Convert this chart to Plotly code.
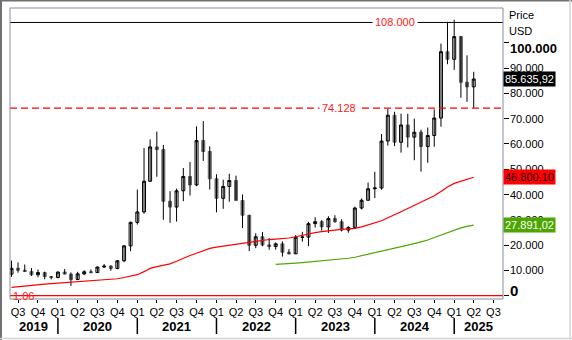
import plotly.graph_objects as go
import pandas as pd

# ---------------- data ----------------
months = pd.date_range("2019-06-01", periods=71, freq="MS")

opens = [8550, 10820, 10080, 9600, 8290, 9150, 7550, 7190, 9350, 8540, 6410, 8630,
         9450, 9140, 11350, 11660, 10780, 13800, 19700, 28990, 33110, 45240, 58800, 57750,
         37330, 35040, 41460, 47130, 43790, 61300, 57000, 46210, 38480, 43190, 45540, 37640,
         31800, 19940, 23300, 20050, 19430, 20500, 17170, 16550, 23140, 23150, 28480, 29250,
         27220, 30480, 29230, 25940, 26970, 34650, 37720, 42270, 42580, 61130, 71330, 60640,
         67480, 62680, 64620, 58970, 63330, 70220, 96450, 93430, 102400, 84370, 82550]
highs = [13880, 13150, 12330, 10930, 10370, 9500, 7750, 9590, 10500, 9190, 9440, 10070,
         10380, 11450, 12480, 12070, 14100, 19860, 29300, 41950, 58330, 61780, 64860, 59600,
         41330, 42320, 50480, 52850, 66930, 69000, 59040, 47990, 45820, 48190, 47440, 40000,
         31950, 24670, 25210, 22800, 21080, 21480, 18400, 23950, 25250, 29200, 31000, 29850,
         31400, 31800, 30200, 27470, 35200, 38420, 44700, 48970, 63900, 73780, 72720, 71950,
         71910, 70000, 65600, 66480, 73620, 99650, 108270, 109100, 102700, 95000, 88500]
lows = [7460, 9100, 9420, 7800, 7300, 6520, 6430, 6870, 8460, 3850, 6150, 8110,
        8900, 8980, 10980, 9880, 10430, 13220, 17620, 28130, 32380, 45000, 47040, 30000,
        28800, 29280, 37330, 39600, 43280, 53260, 42000, 32950, 34320, 37160, 37700, 26700,
        17620, 18780, 19540, 18160, 18200, 15480, 16330, 16500, 21400, 19570, 26940, 25800,
        24800, 28860, 25400, 24900, 26560, 34100, 37600, 38550, 41880, 59320, 59120, 56550,
        58600, 53550, 49050, 52550, 58900, 66800, 91500, 89260, 78250, 76600, 74300]
closes = [10820, 10080, 9600, 8290, 9150, 7550, 7190, 9350, 8540, 6410, 8630, 9450,
          9140, 11350, 11660, 10780, 13800, 19700, 28990, 33110, 45240, 58800, 57750, 37330,
          35040, 41460, 47130, 43790, 61300, 57000, 46210, 38480, 43190, 45540, 37640, 31800,
          19940, 23300, 20050, 19430, 20500, 17170, 16550, 23140, 23150, 28480, 29250, 27220,
          30480, 29230, 25940, 26970, 34650, 37720, 42270, 42580, 61130, 71330, 60640, 67480,
          62680, 64620, 58970, 63330, 70220, 96450, 93430, 102400, 84370, 82550, 85636]

red_ma = [3300, 3600, 3900, 4200, 4400, 4600, 4800, 5000, 5100, 5300, 5400, 5600,
          5800, 6000, 6200, 6400, 6700, 7200, 7800, 8300, 9500, 10800, 11500, 12100,
          12600, 13600, 14800, 15900, 16800, 17900, 18700, 19200, 19600, 20000, 20300, 20700,
          21000, 21500, 22000, 22200, 22400, 22600, 22800, 23300, 23900, 24500, 24900, 25300,
          25700, 26000, 26200, 26400, 26600, 27200, 27900, 28600, 29600, 30800, 31900, 33200,
          34500, 35800, 37000, 38300, 39500, 41200, 43000, 44400, 45300, 46100, 46800]
green_start = 40  # Oct 2022
green_ma = [12400, 12500, 12700, 12900, 13100, 13300, 13500, 13800, 14000, 14200, 14500,
            14800, 15200, 15800, 16400, 17000, 17600, 18100, 18600, 19200, 19900, 20600,
            21300, 22000, 23000, 24000, 25000, 26000, 26800, 27400, 27900]

y_ticks = [0, 10000, 20000, 30000, 40000, 50000, 60000, 70000, 80000, 90000, 100000]
y_tick_labels = ["0", "10.000", "20.000", "30.000", "40.000", "50.000", "60.000",
                 "70.000", "80.000", "90.000", "100.000"]
q_ticks = pd.date_range("2019-07-01", "2025-07-01", freq="QS")
q_labels = ["Q3", "Q4"] + ["Q1", "Q2", "Q3", "Q4"] * 5 + ["Q1", "Q2", "Q3"]
years = ["2019", "2020", "2021", "2022", "2023", "2024", "2025"]

level_high = 108000
level_mid = 74128
level_low = 1.06
last_price_label = "85.635,92"
red_ma_label = "46.800,10"
green_ma_label = "27.891,02"

x_range = [pd.Timestamp("2019-05-25"), pd.Timestamp("2025-08-14")]
y_range = [-1304, 113715]

FONT = "Liberation Sans, Arial, sans-serif"

# ---------------- figure ----------------
fig = go.Figure()

# wicks
wx, wy = [], []
for d, lo, hi in zip(months, lows, highs):
    wx += [d, d, None]
    wy += [lo, hi, None]
fig.add_trace(go.Scatter(x=wx, y=wy, mode="lines", line=dict(color="black", width=1),
                         hoverinfo="skip", showlegend=False))

body_hi = [max(o, c) for o, c in zip(opens, closes)]
body_lo = [min(o, c) for o, c in zip(opens, closes)]
fig.add_trace(go.Candlestick(
    x=months, open=opens, high=body_hi, low=body_lo, close=closes,
    increasing=dict(fillcolor="white", line=dict(color="black", width=1)),
    decreasing=dict(fillcolor="#676767", line=dict(color="#676767", width=1)),
    showlegend=False))

fig.add_trace(go.Scatter(x=months, y=red_ma, mode="lines",
                         line=dict(color="#ff0000", width=1.2), showlegend=False))
fig.add_trace(go.Scatter(x=months[green_start:], y=green_ma, mode="lines",
                         line=dict(color="#4aa800", width=1.2), showlegend=False))

shapes = []
# horizontal levels
shapes.append(dict(type="line", xref="paper", x0=0, x1=1, yref="y", y0=level_high, y1=level_high,
                   line=dict(color="black", width=1)))
shapes.append(dict(type="line", xref="paper", x0=0, x1=1, yref="y", y0=level_mid, y1=level_mid,
                   line=dict(color="#ff0000", width=1.2, dash="7px,4px")))
shapes.append(dict(type="line", xref="paper", x0=0, x1=1, yref="y", y0=level_low, y1=level_low,
                   line=dict(color="#ff0000", width=1.2)))
# plot frame
shapes.append(dict(type="rect", xref="paper", yref="paper", x0=0, x1=1, y0=0, y1=1,
                   line=dict(color="#8c8ca0", width=1)))
# outer window border
shapes.append(dict(type="line", xref="paper", yref="paper", x0=-0.0183, x1=1.14, y0=1.0255, y1=1.0255,
                   line=dict(color="#707070", width=2)))
shapes.append(dict(type="line", xref="paper", yref="paper", x0=-0.0183, x1=-0.0183, y0=1.03, y1=-0.14,
                   line=dict(color="#707070", width=2)))
shapes.append(dict(type="line", xref="paper", yref="paper", x0=-0.02, x1=1.14, y0=-0.1357, y1=-0.1357,
                   line=dict(color="#d4d4d4", width=1.5)))
shapes.append(dict(type="line", xref="paper", yref="paper", x0=1.136, x1=1.136, y0=1.03, y1=-0.14,
                   line=dict(color="#d4d4d4", width=1.5)))
# year separators
for y in years[1:]:
    d = pd.Timestamp(f"{y}-01-01")
    shapes.append(dict(type="line", xref="x", yref="paper", x0=d, x1=d, y0=-0.0653, y1=-0.1203,
                       line=dict(color="black", width=1.5)))

annotations = []
# y axis labels
for v, t in zip(y_ticks, y_tick_labels):
    if v == 100000:
        f = dict(family=FONT, size=13, color="black", weight="bold")
        ys = -6
    elif v == 0:
        f = dict(family=FONT, size=15, color="black", weight="bold")
        ys = 5
    else:
        f = dict(family=FONT, size=11, color="black")
        ys = 0
    annotations.append(dict(xref="paper", yref="y", x=1, y=v, text=t, showarrow=False,
                            xanchor="left", yanchor="middle", xshift=5, yshift=ys, font=f))
annotations.append(dict(xref="paper", yref="paper", x=1, y=0.976, text="Price", showarrow=False,
                        xanchor="left", yanchor="middle", xshift=4, font=dict(family=FONT, size=11, color="black")))
annotations.append(dict(xref="paper", yref="paper", x=1, y=0.921, text="USD", showarrow=False,
                        xanchor="left", yanchor="middle", xshift=4, font=dict(family=FONT, size=11, color="black")))
# value boxes
annotations.append(dict(xref="paper", yref="y", x=1, y=closes[-1], text=last_price_label, showarrow=False,
                        xanchor="left", yanchor="middle", xshift=0, bgcolor="black", borderpad=1,
                        font=dict(family=FONT, size=11, color="white")))
annotations.append(dict(xref="paper", yref="y", x=1, y=red_ma[-1], text=red_ma_label, showarrow=False,
                        xanchor="left", yanchor="middle", xshift=0, bgcolor="#ff0000", borderpad=1,
                        font=dict(family=FONT, size=11, color="#200000")))
annotations.append(dict(xref="paper", yref="y", x=1, y=green_ma[-1], text=green_ma_label, showarrow=False,
                        xanchor="left", yanchor="middle", xshift=0, bgcolor="#4ca600", borderpad=1,
                        font=dict(family=FONT, size=11, color="white")))
# level labels
annotations.append(dict(xref="paper", yref="y", x=0.781, y=level_high, text="108.000", showarrow=False,
                        xanchor="center", yanchor="middle", bgcolor="white", borderpad=2,
                        font=dict(family=FONT, size=11, color="#ff1a1a")))
annotations.append(dict(xref="paper", yref="y", x=0.668, y=level_mid, text="74.128", showarrow=False,
                        xanchor="center", yanchor="middle", bgcolor="white", borderpad=2,
                        font=dict(family=FONT, size=11, color="#ff1a1a")))
annotations.append(dict(xref="paper", yref="y", x=0.003, y=level_low, text="1.06", showarrow=False,
                        xanchor="left", yanchor="middle",
                        font=dict(family=FONT, size=11, color="#ff1a1a")))
# year labels
for y in years:
    s = max(pd.Timestamp(f"{y}-01-01"), x_range[0])
    e = min(pd.Timestamp(f"{int(y) + 1}-01-01"), x_range[1])
    mid = s + (e - s) / 2
    annotations.append(dict(xref="x", yref="paper", x=mid, y=-0.093, text=f"<b>{y}</b>", showarrow=False,
                            xanchor="center", yanchor="middle",
                            font=dict(family=FONT, size=13, color="black")))

fig.update_layout(
    width=572, height=340,
    margin=dict(l=10, r=69, t=8, b=41),
    paper_bgcolor="white", plot_bgcolor="white",
    showlegend=False,
    shapes=shapes, annotations=annotations,
    xaxis=dict(type="date", range=x_range, tickvals=list(q_ticks), ticktext=q_labels,
               ticks="outside", ticklen=3, tickcolor="black", showgrid=False, zeroline=False,
               showline=False, rangeslider=dict(visible=False),
               tickfont=dict(family=FONT, size=11, color="black")),
    yaxis=dict(range=y_range, side="right", tickvals=y_ticks, ticks="outside", ticklen=5,
               tickcolor="black", showticklabels=False, showgrid=False, zeroline=False,
               showline=False),
)

fig.write_html("out.html")
